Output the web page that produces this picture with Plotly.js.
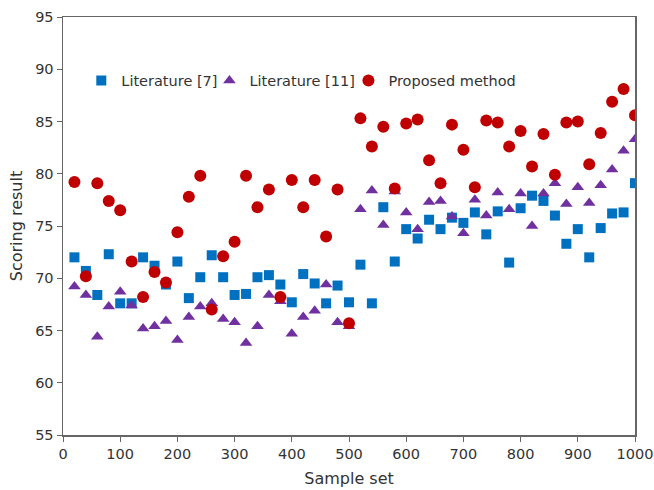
<!DOCTYPE html>
<html>
<head>
<meta charset="utf-8">
<script src="https://cdn.plot.ly/plotly-3.0.1.min.js"></script>
<style>html,body{margin:0;padding:0;background:#fff;}#chart{width:654px;height:490px;}</style>
</head>
<body>
<div id="chart"></div>
<script>
const sampleSet = [20,40,60,80,100,120,140,160,180,200,220,240,260,280,300,320,340,360,380,400,420,440,460,480,500,520,540,560,580,600,620,640,660,680,700,720,740,760,780,800,820,840,860,880,900,920,940,960,980,1000];
const literature7 = [72.0,70.7,68.4,72.3,67.6,67.6,72.0,71.2,69.4,71.6,68.1,70.1,72.2,70.1,68.4,68.5,70.1,70.3,69.4,67.7,70.4,69.5,67.6,69.3,67.7,71.3,67.6,76.8,71.6,74.7,73.8,75.6,74.7,75.8,75.3,76.3,74.2,76.4,71.5,76.7,77.9,77.4,76.0,73.3,74.7,72.0,74.8,76.2,76.3,79.1];
const literature11 = [69.2,68.4,64.4,67.3,68.7,67.4,65.2,65.4,65.9,64.1,66.3,67.3,67.6,66.1,65.8,63.8,65.4,68.4,67.8,64.7,66.3,66.9,69.4,65.8,65.4,76.6,78.4,75.1,78.3,76.3,74.7,77.3,77.4,75.9,74.3,77.5,76.0,78.2,76.6,78.1,75.0,78.1,79.1,77.1,78.7,77.2,78.9,80.4,82.2,83.3];
const proposed = [79.2,70.2,79.1,77.4,76.5,71.6,68.2,70.6,69.6,74.4,77.8,79.8,67.0,72.1,73.5,79.8,76.8,78.5,68.2,79.4,76.8,79.4,74.0,78.5,65.7,85.3,82.6,84.5,78.6,84.8,85.2,81.3,79.1,84.7,82.3,78.7,85.1,84.9,82.6,84.1,80.7,83.8,79.9,84.9,85.0,80.9,83.9,86.9,88.1,85.6];
const seriesNames = ["Literature [7]","Literature [11]","Proposed method"];

const FONT = "DejaVu Sans, Verdana, sans-serif";
const TXT = "#333";

const traces = [
  {x: sampleSet, y: literature7, name: seriesNames[0], type: "scatter", mode: "markers", legend: "legend",
   marker: {symbol: "square", size: 10, color: "#0070C0"}},
  {x: sampleSet, y: literature11, name: seriesNames[1], type: "scatter", mode: "markers", legend: "legend2",
   marker: {symbol: "triangle-up", size: 11, color: "#7030A0"}},
  {x: sampleSet, y: proposed, name: seriesNames[2], type: "scatter", mode: "markers", legend: "legend3",
   marker: {symbol: "circle", size: 12, color: "#C00000"}}
];

const axisCommon = {
  showgrid: false, zeroline: false, showline: true, mirror: true,
  linecolor: "#666", linewidth: 1.5,
  ticks: "outside", ticklen: 5, tickcolor: "#666", tickwidth: 1,
  ticklabeloverflow: "allow",
  tickfont: {family: FONT, size: 14.5, color: TXT}
};

function legendAt(x) {
  return {orientation: "h", x: x, y: 0.848, xanchor: "left", yanchor: "middle",
          bgcolor: "rgba(0,0,0,0)", font: {family: FONT, size: 14.5, color: TXT},
          itemwidth: 30};
}

const layout = {
  width: 654, height: 490,
  margin: {l: 63, r: 19, t: 17, b: 55},
  paper_bgcolor: "#fff", plot_bgcolor: "#fff",
  font: {family: FONT, color: TXT},
  showlegend: true,
  legend: legendAt(0.032),
  legend2: legendAt(0.256),
  legend3: legendAt(0.499),
  xaxis: Object.assign({}, axisCommon, {range: [0, 1000], dtick: 100,
          title: {text: "Sample set", font: {family: FONT, size: 16, color: TXT}, standoff: 12}}),
  yaxis: Object.assign({}, axisCommon, {range: [55, 95], dtick: 5,
          title: {text: "Scoring result", font: {family: FONT, size: 16, color: TXT}, standoff: 8}})
};

Plotly.newPlot("chart", traces, layout, {displayModeBar: false, staticPlot: true});
</script>
</body>
</html>
